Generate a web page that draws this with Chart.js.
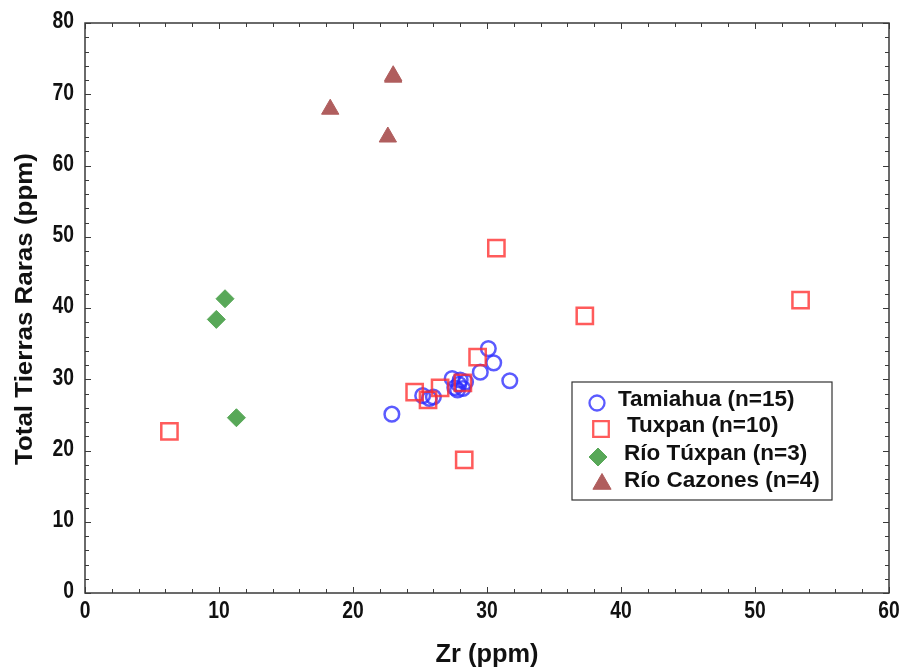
<!DOCTYPE html>
<html><head><meta charset="utf-8">
<script src="https://cdn.jsdelivr.net/npm/chart.js@4.4.0/dist/chart.umd.min.js"></script>
<style>html,body{margin:0;padding:0;background:#fff}#wrap{width:904px;height:670px;position:relative}</style>
</head><body><div id="wrap"><canvas id="c" width="904" height="670"></canvas></div>
<script>
// Data (Zr ppm, Total REE ppm)
const tamiahuaZr  = [22.9, 25.2, 25.7, 26.0, 27.4, 27.6, 27.9, 28.2, 28.4, 28.0, 29.5, 30.1, 30.5, 31.7, 27.8];
const tamiahuaREE = [25.1, 27.7, 27.3, 27.5, 30.1, 28.8, 29.3, 28.7, 29.6, 29.9, 31.0, 34.3, 32.3, 29.8, 28.5];
const tuxpanZr    = [6.3, 30.7, 37.3, 53.4, 28.3, 24.6, 25.6, 26.5, 28.2, 29.3];
const tuxpanREE   = [22.7, 48.4, 38.9, 41.1, 18.7, 28.2, 27.1, 28.8, 29.5, 33.1];
const rioTuxpanZr  = [10.45, 9.8, 11.3];
const rioTuxpanREE = [41.3, 38.4, 24.6];
const cazonesZr  = [18.3, 23.0, 22.6, 23.0];
const cazonesREE = [67.9, 72.6, 64.0, 72.4];
const seriesNames = ['Tamiahua (n=15)', 'Tuxpan (n=10)', 'Río Túxpan (n=3)', 'Río Cazones (n=4)'];
const xTicks = [0, 10, 20, 30, 40, 50, 60];
const yTicks = [0, 10, 20, 30, 40, 50, 60, 70, 80];
const xTitle = 'Zr (ppm)';
const yTitle = 'Total Tierras Raras (ppm)';

const pts = (xs, ys) => xs.map((x, i) => ({x: x, y: ys[i]}));

const styles = [
  {pointStyle: 'circle', radius: 7.3, borderColor: 'rgba(45,45,255,0.78)', backgroundColor: 'rgba(0,0,0,0)', borderWidth: 2.5},
  {pointStyle: 'rect', radius: 11.5, borderColor: 'rgba(255,45,45,0.78)', backgroundColor: 'rgba(0,0,0,0)', borderWidth: 2.5},
  {pointStyle: 'rectRot', radius: 9, borderColor: '#58a858', backgroundColor: '#58a858', borderWidth: 1},
  {pointStyle: 'triangle', radius: 10, borderColor: '#b05e5e', backgroundColor: '#b05e5e', borderWidth: 1}
];
const dataSets = [pts(tamiahuaZr, tamiahuaREE), pts(tuxpanZr, tuxpanREE), pts(rioTuxpanZr, rioTuxpanREE), pts(cazonesZr, cazonesREE)];

const datasets = dataSets.map((d, i) => ({
  label: seriesNames[i], data: d,
  pointStyle: styles[i].pointStyle, pointRadius: styles[i].radius, pointHoverRadius: styles[i].radius,
  pointBorderColor: styles[i].borderColor, pointBackgroundColor: styles[i].backgroundColor,
  pointBorderWidth: styles[i].borderWidth, showLine: false, order: 4 - i
}));

function scaledText(ctx, text, x, y, sx, align) {
  ctx.save();
  ctx.translate(x, y);
  ctx.scale(sx, 1);
  ctx.textAlign = align;
  ctx.fillText(text, 0, 0);
  ctx.restore();
}

const framePlugin = {
  id: 'frame',
  afterDraw(chart) {
    const ctx = chart.ctx, a = chart.chartArea, xs = chart.scales.x, ys = chart.scales.y;
    ctx.save();
    ctx.strokeStyle = '#3a3a3a'; ctx.lineWidth = 1.5;
    ctx.strokeRect(a.left, a.top, a.right - a.left, a.bottom - a.top);
    ctx.lineWidth = 1;
    ctx.beginPath();
    for (let v = 0; v <= 60; v += 2) {
      const px = Math.round(xs.getPixelForValue(v)) + 0.5;
      const len = (v % 10 === 0) ? 6 : 4;
      ctx.moveTo(px, a.bottom); ctx.lineTo(px, a.bottom - len);
      ctx.moveTo(px, a.top); ctx.lineTo(px, a.top + len);
    }
    for (let v = 0; v <= 80; v += 2) {
      const py = Math.round(ys.getPixelForValue(v)) + 0.5;
      const len = (v % 10 === 0) ? 6 : 4;
      ctx.moveTo(a.left, py); ctx.lineTo(a.left + len, py);
      ctx.moveTo(a.right, py); ctx.lineTo(a.right - len, py);
    }
    ctx.stroke();

    // tick labels (narrow bold, as in the reference)
    ctx.fillStyle = '#111';
    ctx.textBaseline = 'middle';
    ctx.font = 'bold 23px "Liberation Sans", Arial, sans-serif';
    xTicks.forEach(v => scaledText(ctx, String(v), xs.getPixelForValue(v), a.bottom + 19, 0.84, 'center'));
    yTicks.forEach(v => scaledText(ctx, String(v), a.left - 11, ys.getPixelForValue(v) - 1, 0.84, 'right'));

    // axis titles
    ctx.font = 'bold 25px "Liberation Sans", Arial, sans-serif';
    const wx = ctx.measureText(xTitle).width;
    scaledText(ctx, xTitle, (a.left + a.right) / 2 + 0, 655, 103 / wx, 'center');
    ctx.font = 'bold 23px "Liberation Sans", Arial, sans-serif';
    const wy = ctx.measureText(yTitle).width;
    ctx.save();
    ctx.translate(26, 309);
    ctx.rotate(-Math.PI / 2);
    ctx.scale(312 / wy, 1);
    ctx.textAlign = 'center';
    ctx.fillText(yTitle, 0, 0);
    ctx.restore();

    // legend box
    const bx = 572, by = 382, bw = 260, bh = 118;
    ctx.fillStyle = '#fff'; ctx.fillRect(bx, by, bw, bh);
    ctx.strokeStyle = '#333'; ctx.lineWidth = 1.2; ctx.strokeRect(bx, by, bw, bh);
    const rows = [400, 426, 454, 481];
    const markX = [597, 601, 598, 602];
    const textX = [618, 627, 624, 624];
    const legR = [7.5, 11, 9, 10.5];
    const legW = [2.3, 2.3, 1, 1];
    ctx.font = 'bold 22.5px "Liberation Sans", Arial, sans-serif';
    ctx.textBaseline = 'middle'; ctx.textAlign = 'left';
    for (let i = 0; i < 4; i++) {
      ctx.save();
      ctx.strokeStyle = styles[i].borderColor; ctx.fillStyle = styles[i].backgroundColor;
      ctx.lineWidth = legW[i];
      Chart.helpers.drawPoint(ctx, {pointStyle: styles[i].pointStyle, rotation: 0, borderWidth: legW[i], radius: legR[i]}, markX[i], rows[i] + 3);
      ctx.restore();
      ctx.fillStyle = '#111';
      ctx.fillText(seriesNames[i], textX[i], rows[i]);
    }
    ctx.restore();
  }
};

new Chart(document.getElementById('c'), {
  type: 'scatter',
  data: {datasets: datasets},
  options: {
    responsive: false, animation: false, devicePixelRatio: 1,
    layout: {padding: {top: 23, right: 15, left: 0, bottom: 0}},
    plugins: {legend: {display: false}, tooltip: {enabled: false}},
    scales: {
      x: {
        type: 'linear', min: 0, max: 60,
        afterBuildTicks: s => { s.ticks = xTicks.map(v => ({value: v})); },
        afterFit: s => { s.height = 77; s.paddingLeft = 0; s.paddingRight = 0; },
        grid: {display: false, drawTicks: false},
        border: {display: false},
        ticks: {display: false},
        title: {display: false}
      },
      y: {
        type: 'linear', min: 0, max: 80,
        afterBuildTicks: s => { s.ticks = yTicks.map(v => ({value: v})); },
        afterFit: s => { s.width = 85; s.paddingTop = 0; s.paddingBottom = 0; },
        grid: {display: false, drawTicks: false},
        border: {display: false},
        ticks: {display: false},
        title: {display: false}
      }
    }
  },
  plugins: [framePlugin]
});
</script></body></html>
